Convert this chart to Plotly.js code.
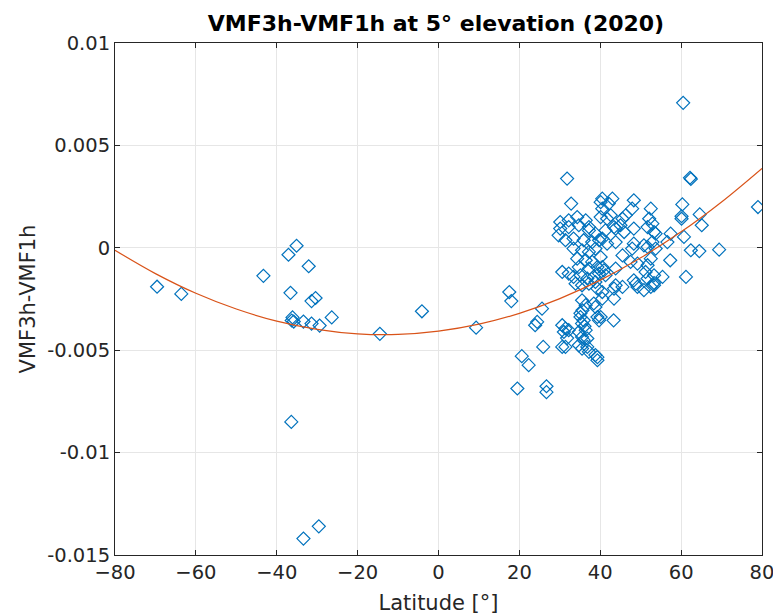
<!DOCTYPE html>
<html>
<head>
<meta charset="utf-8">
<script src="https://cdn.plot.ly/plotly-3.0.1.min.js"></script>
<style>html,body{margin:0;padding:0;background:#fff;}#chart{width:773px;height:615px;}</style>
</head>
<body>
<div id="chart"></div>
<script>
// Station latitudes (degrees)
const latitude = [
  -69.6,-63.6,-43.3,-35.1,-37.1,-36.6,-32.1,-30.4,-31.4,-36.1,-35.8,-36.3,-33.4,-31.4,-29.4,-26.4,-36.4,-33.4,-29.6,-14.5,-4.1,9.3,
  17.5,18.0,19.5,20.6,22.3,24.4,23.9,25.6,25.9,26.7,26.7,
  31.8,32.8,30.1,32.2,34.3,36.4,34.7,37.2,40.1,40.1,30.1,32.2,37.2,38.8,
  29.7,31.4,33.4,35.9,38.0,39.7,33.4,35.5,37.2,38.8,40.1,34.3,36.4,38.0,34.7,37.2,39.3,
  30.6,32.2,33.4,35.1,36.8,38.4,39.7,33.9,35.5,37.2,38.8,39.3,40.5,35.5,36.4,38.4,38.8,
  35.1,35.9,35.5,39.3,39.7,30.6,31.4,31.0,32.2,34.7,36.4,35.5,36.8,30.6,31.4,34.7,35.5,36.8,37.2,38.8,39.3,39.3,31.8,
  43.3,43.8,43.4,43.4,40.5,40.1,48.8,49.2,52.5,53.3,53.3,35.6,35.1,36.1,35.9,
  40.5,43.0,42.1,42.6,41.7,40.5,48.3,47.9,46.3,45.5,52.5,52.1,52.9,43.4,45.0,45.9,41.3,43.8,48.3,51.7,53.3,
  40.5,41.7,43.8,47.9,50.8,52.9,53.7,45.5,47.5,49.2,51.7,52.5,40.5,40.9,41.3,43.8,48.3,51.7,53.3,50.8,
  53.7,57.4,56.6,60.7,48.3,51.7,62.4,64.5,69.4,57.3,51.2,55.4,61.2,45.5,
  60.5,62.2,62.4,79.0,60.3,60.1,60.1,64.6,65.1
];
// VMF3h - VMF1h differences
const difference = [
  -0.0019,-0.00225,-0.00137,0.0001,-0.00034,-0.0022,-0.0009,-0.00245,-0.0026,-0.0034,-0.0036,-0.00355,-0.0036,-0.0037,-0.0038,-0.0034,-0.0085,-0.0142,-0.0136,-0.0042,-0.0031,-0.0039,
  -0.00216,-0.0026,-0.00687,-0.00529,-0.00573,-0.00362,-0.00378,-0.00297,-0.00484,-0.00676,-0.00705,
  0.00338,0.00216,0.00126,0.00134,0.0015,0.00134,0.0011,0.00101,0.00223,0.0015,0.00094,0.00101,0.00085,0.00069,
  0.00061,0.00037,0.00045,0.00037,0.00028,0.00037,-0.00004,-0.00012,-0.0002,-0.00004,-0.00045,-0.00053,-0.00061,-0.00069,-0.00094,-0.00101,-0.00094,
  -0.00118,-0.00126,-0.00142,-0.00134,-0.0015,-0.00142,-0.00126,-0.00175,-0.00183,-0.00175,-0.00167,-0.00199,-0.00216,-0.00256,-0.0028,-0.00272,-0.00289,
  -0.00338,-0.00354,-0.0037,-0.00338,-0.00354,-0.00378,-0.00394,-0.00411,-0.00402,-0.00411,-0.00402,-0.00435,-0.00443,-0.00484,-0.00484,-0.00476,-0.00492,-0.00484,-0.00508,-0.00524,-0.00534,-0.00549,-0.00441,
  -0.00354,-0.00183,-0.00248,-0.00199,-0.00248,-0.00338,-0.00175,-0.00191,-0.00191,-0.00183,-0.00172,-0.00305,-0.0032,-0.00383,-0.00451,
  0.0024,0.0024,0.00216,0.00159,0.00142,0.00191,0.00232,0.00191,0.00159,0.00142,0.00191,0.00142,0.00118,0.00101,0.0011,0.00077,0.00085,0.00094,0.00094,0.00101,0.00077,
  0.00045,0.0002,0.00028,-0.00004,0.00012,0.00028,-0.00004,-0.00037,-0.00069,-0.00077,-0.00085,-0.00053,-0.00094,-0.0011,-0.00134,-0.00101,-0.00159,-0.0015,-0.00134,-0.00207,
  0.00069,0.00069,0.00028,0.00053,0.0002,0.00004,-0.00012,-0.00016,-0.00009,-0.00061,-0.00118,-0.00142,-0.00142,-0.00191,
  0.00708,0.00342,0.00336,0.00199,0.00212,0.00154,0.00142,0.00163,0.0011
];
// Fitted curve
const fitLatitude = [-80,-70,-60,-50,-40,-30,-20,-10,0,10,20,30,40,50,60,70,80];
const fitValue = [-0.00012,-0.00126,-0.00222,-0.00299,-0.00358,-0.00398,-0.0042,-0.00423,-0.00407,-0.00373,-0.0032,-0.00248,-0.00158,-0.00049,0.00078,0.00224,0.00388];
const xTicks = [-80,-60,-40,-20,0,20,40,60,80];
const yTicks = [-0.015,-0.01,-0.005,0,0.005,0.01];
const yTickText = ['-0.015','-0.01','-0.005','0','0.005','0.01'];

const font = 'DejaVu Sans, sans-serif';
const axisCommon = {
  showgrid: true, gridcolor: '#e6e6e6', gridwidth: 1,
  showline: true, linecolor: '#262626', linewidth: 1, mirror: 'ticks',
  ticks: 'inside', ticklen: 5, tickcolor: '#262626',
  zeroline: false, ticklabeloverflow: 'allow',
  tickfont: {family: font, size: 19.5, color: '#262626'}
};

const traces = [
  {
    x: latitude, y: difference, type: 'scatter', mode: 'markers',
    marker: {symbol: 'diamond-open', size: 10, color: '#0072BD', line: {width: 1.2, color: '#0072BD'}},
    hoverinfo: 'x+y', showlegend: false
  },
  {
    x: fitLatitude, y: fitValue, type: 'scatter', mode: 'lines',
    line: {color: '#D95319', width: 1.2, shape: 'spline'},
    showlegend: false
  }
];

const layout = {
  width: 773, height: 615,
  margin: {l: 115, r: 11, t: 43, b: 60},
  paper_bgcolor: '#ffffff', plot_bgcolor: '#ffffff',
  title: {text: '<b>VMF3h-VMF1h at 5° elevation (2020)</b>', font: {family: font, size: 22, color: '#000000'}, xref: 'container', x: 0.564, xanchor: 'center', yref: 'container', y: 0.962, yanchor: 'middle'},
  xaxis: Object.assign({}, axisCommon, {
    range: [-80, 80], tickmode: 'array', tickvals: xTicks,
    title: {text: 'Latitude [°]', font: {family: font, size: 21, color: '#262626'}, standoff: 11}
  }),
  yaxis: Object.assign({}, axisCommon, {
    range: [-0.015, 0.01], tickmode: 'array', tickvals: yTicks, ticktext: yTickText,
    title: {text: 'VMF3h-VMF1h', font: {family: font, size: 21, color: '#262626'}, standoff: 5}
  })
};

Plotly.newPlot('chart', traces, layout, {displayModeBar: false, staticPlot: true});
</script>
</body>
</html>
